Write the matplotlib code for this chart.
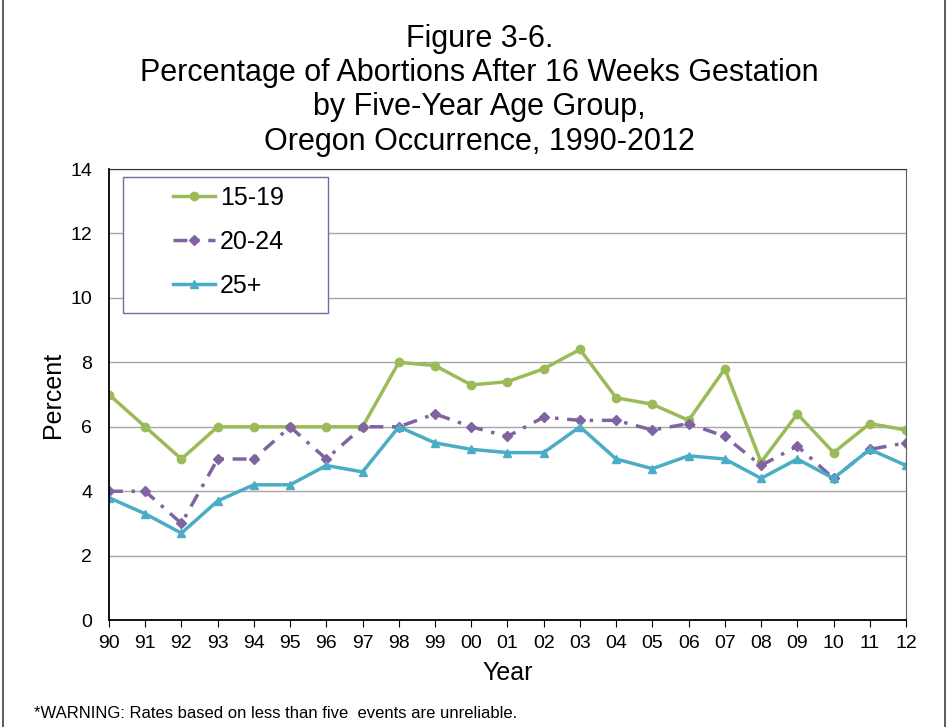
import matplotlib.pyplot as plt
from matplotlib.patches import Rectangle

plt.rcParams['font.family'] = ['Liberation Sans', 'DejaVu Sans']

# data
years = ['90', '91', '92', '93', '94', '95', '96', '97', '98', '99', '00', '01',
         '02', '03', '04', '05', '06', '07', '08', '09', '10', '11', '12']
age_15_19 = [7.0, 6.0, 5.0, 6.0, 6.0, 6.0, 6.0, 6.0, 8.0, 7.9, 7.3, 7.4,
             7.8, 8.4, 6.9, 6.7, 6.2, 7.8, 4.9, 6.4, 5.2, 6.1, 5.9]
age_20_24 = [4.0, 4.0, 3.0, 5.0, 5.0, 6.0, 5.0, 6.0, 6.0, 6.4, 6.0, 5.7,
             6.3, 6.2, 6.2, 5.9, 6.1, 5.7, 4.8, 5.4, 4.4, 5.3, 5.5]
age_25_plus = [3.8, 3.3, 2.7, 3.7, 4.2, 4.2, 4.8, 4.6, 6.0, 5.5, 5.3, 5.2,
               5.2, 6.0, 5.0, 4.7, 5.1, 5.0, 4.4, 5.0, 4.4, 5.3, 4.8]

green = '#9BBB59'
purple = '#8064A2'
cyan = '#4BACC6'

fig = plt.figure(figsize=(9.5, 7.27), dpi=100)
ax = fig.add_axes([0.1147, 0.147, 0.839, 0.6205])

x = list(range(len(years)))
ax.plot(x, age_15_19, color=green, lw=2.5, marker='o', ms=6, label='15-19')
ax.plot(x, age_20_24, color=purple, lw=2.5, marker='D', ms=5,
        linestyle=(0, (4, 2.5, 1, 2.5)), label='20-24')
ax.plot(x, age_25_plus, color=cyan, lw=2.5, marker='^', ms=6, label='25+')

ax.set_xlim(0, len(years) - 1)
ax.set_ylim(0, 14)
ax.set_yticks(range(0, 15, 2))
ax.set_xticks(x)
ax.set_xticklabels(years)
ax.tick_params(axis='x', labelsize=14, direction='out', length=5, pad=6)
ax.tick_params(axis='y', labelsize=14, direction='out', length=0, pad=12)
ax.grid(axis='y', color='#a6a6a6', lw=1)
ax.set_axisbelow(True)
ax.spines['top'].set_color('#303030')
ax.spines['right'].set_color('#606060')
for s in ['left', 'bottom']:
    ax.spines[s].set_color('black')
    ax.spines[s].set_linewidth(1.3)

ax.set_xlabel('Year', fontsize=18)
ax.xaxis.set_label_coords(0.5, -0.09)
ax.set_ylabel('Percent', fontsize=18)
ax.yaxis.set_label_coords(-0.055, 0.5)

# legend frame drawn separately to get the wide side padding
ax.add_patch(Rectangle((0.0176, 0.681), 0.257, 0.301, transform=ax.transAxes,
                       fill=True, facecolor='white', edgecolor=purple, lw=1, zorder=5))
leg = ax.legend(loc='upper left', bbox_to_anchor=(0.080, 0.962), fontsize=18,
                frameon=False, handlelength=1.7, labelspacing=0.8,
                borderpad=0, handletextpad=0.2, borderaxespad=0)
leg.set_zorder(6)

fig.text(0.505, 0.947, 'Figure 3-6.', ha='center', va='center', fontsize=22)
fig.text(0.505, 0.900, 'Percentage of Abortions After 16 Weeks Gestation',
         ha='center', va='center', fontsize=22)
fig.text(0.505, 0.853, 'by Five-Year Age Group,', ha='center', va='center', fontsize=22)
fig.text(0.505, 0.805, 'Oregon Occurrence, 1990-2012', ha='center', va='center', fontsize=22)

fig.text(0.036, 0.018, '*WARNING: Rates based on less than five  events are unreliable.',
         ha='left', va='center', fontsize=12)

fig.patches.append(Rectangle((0.003, -0.01), 0.992, 1.02, transform=fig.transFigure,
                             fill=False, edgecolor='#404040', lw=1.2))

fig.savefig('out.png', dpi=100)
